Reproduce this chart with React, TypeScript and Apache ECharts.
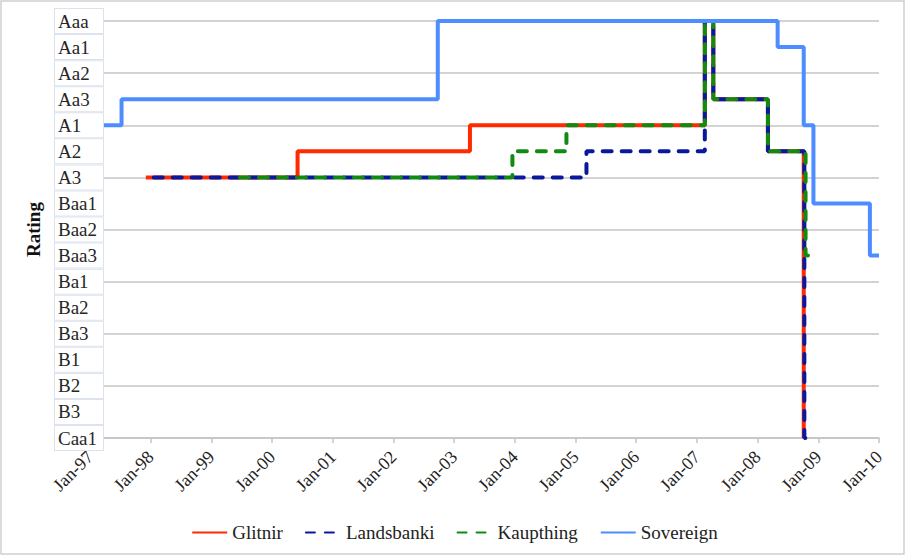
import React, { useEffect, useRef } from 'react';
import * as echarts from 'echarts';

// Moody's rating scale, bottom (Caa1) to top (Aaa)
const ratingScale = ['Caa1', 'B3', 'B2', 'B1', 'Ba3', 'Ba2', 'Ba1', 'Baa3', 'Baa2', 'Baa1', 'A3', 'A2', 'A1', 'Aa3', 'Aa2', 'Aa1', 'Aaa'];

// x axis range (years)
const xMin = 1997;
const xMax = 2010;

// rating change dates (decimal years) and new ratings
const glitnirDates = [1997.92, 2000.42, 2003.26, 2007.13, 2007.27, 2008.17, 2008.76];
const glitnirRatings = ['A3', 'A2', 'A1', 'Aaa', 'Aa3', 'A2', 'Caa1'];

const landsbankiDates = [1998.05, 2005.18, 2007.13, 2007.27, 2008.17, 2008.77, 2008.88];
const landsbankiRatings = ['A3', 'A2', 'Aaa', 'Aa3', 'A2', 'Caa1', 'Caa1'];

const kaupthingDates = [1999.47, 2003.96, 2004.85, 2007.13, 2007.27, 2008.17, 2008.79, 2008.89];
const kaupthingRatings = ['A3', 'A2', 'A1', 'Aaa', 'Aa3', 'A2', 'Baa3', 'Baa3'];

const sovereignDates = [1997.0, 1997.52, 2002.73, 2008.33, 2008.76, 2008.92, 2009.85, 2010.0];
const sovereignRatings = ['A1', 'Aa3', 'Aaa', 'Aa1', 'A1', 'Baa1', 'Baa3', 'Baa3'];

const seriesNames = ['Glitnir', 'Landsbanki', 'Kaupthing', 'Sovereign'];

export default function App() {
  const ref = useRef<HTMLDivElement>(null);

  useEffect(() => {
    document.body.style.margin = '0';
    const chart = echarts.init(ref.current as HTMLDivElement, null, { renderer: 'svg' });
    const font = 'Liberation Serif';
    const grid = '#c4c4c4';
    const mk = (d: number[], r: string[]) => d.map((x, i) => [x, r[i]]);

    chart.setOption({
      animation: false,
      backgroundColor: '#ffffff',
      grid: { left: 90, right: 30, top: 21, bottom: 118, containLabel: false },
      graphic: [
        {
          type: 'rect',
          silent: true,
          shape: { x: 1, y: 1, width: 903, height: 553 },
          style: { fill: 'none', stroke: '#d0d0d0', lineWidth: 1.5 },
        },
      ],
      legend: {
        data: seriesNames,
        top: 518,
        left: 'center',
        itemWidth: 35,
        itemHeight: 12,
        itemGap: 22,
        itemStyle: { opacity: 0 },
        textStyle: { fontFamily: font, fontSize: 19, color: '#222' },
      },
      xAxis: {
        type: 'value',
        min: xMin,
        max: xMax,
        interval: 1,
        axisLine: { show: true, lineStyle: { color: grid, width: 1.6 } },
        axisTick: { show: true, length: 5, lineStyle: { color: grid, width: 1.5 } },
        splitLine: { show: false },
        axisLabel: {
          rotate: 45,
          margin: 16,
          fontFamily: font,
          fontSize: 18,
          color: '#222',
          formatter: (v: number) => 'Jan-' + String(Math.round(v) % 100).padStart(2, '0'),
        },
      },
      yAxis: [
        {
          type: 'category',
          data: ratingScale,
          boundaryGap: false,
          axisLine: { show: false },
          axisTick: { show: false },
          axisLabel: { show: false },
          splitLine: { show: true, interval: 1, lineStyle: { color: grid, width: 1.6 } },
        },
        {
          type: 'category',
          data: ratingScale,
          boundaryGap: false,
          position: 'left',
          z: 10,
          name: 'Rating',
          nameLocation: 'middle',
          nameGap: 34,
          nameTextStyle: { fontFamily: font, fontSize: 19, fontWeight: 'bold', color: '#111' },
          axisLine: { show: false },
          axisTick: { show: false },
          splitLine: { show: false },
          axisLabel: {
            interval: 0,
            margin: -13,
            formatter: (v: string) => `{a|${v}}`,
            backgroundColor: '#ffffff',
            borderColor: '#dce3ee',
            borderWidth: 1,
            padding: [0, 1, 0, 3],
            rich: {
              a: {
                width: 44,
                height: 24,
                lineHeight: 24,
                align: 'left',
                fontFamily: font,
                fontSize: 19,
                color: '#262626',
              },
            },
          },
        },
      ],
      series: [
        {
          name: 'Glitnir',
          type: 'line',
          step: 'start',
          symbol: 'none',
          yAxisIndex: 0,
          data: mk(glitnirDates, glitnirRatings),
          lineStyle: { color: '#ff2a00', width: 4 },
          itemStyle: { color: '#ff2a00' },
        },
        {
          name: 'Landsbanki',
          type: 'line',
          step: 'start',
          symbol: 'none',
          yAxisIndex: 0,
          data: mk(landsbankiDates, landsbankiRatings),
          lineStyle: { color: '#0a189c', width: 4, type: [9, 10], cap: 'round' },
          itemStyle: { color: '#0a189c' },
        },
        {
          name: 'Kaupthing',
          type: 'line',
          step: 'start',
          symbol: 'none',
          yAxisIndex: 0,
          data: mk(kaupthingDates, kaupthingRatings),
          lineStyle: { color: '#118a11', width: 4, type: [9, 10], cap: 'round' },
          itemStyle: { color: '#118a11' },
        },
        {
          name: 'Sovereign',
          type: 'line',
          step: 'start',
          symbol: 'none',
          yAxisIndex: 0,
          data: mk(sovereignDates, sovereignRatings),
          lineStyle: { color: '#4d8dff', width: 4 },
          itemStyle: { color: '#4d8dff' },
        },
      ],
    });

    return () => chart.dispose();
  }, []);

  return <div ref={ref} style={{ width: 909, height: 556 }} />;
}
